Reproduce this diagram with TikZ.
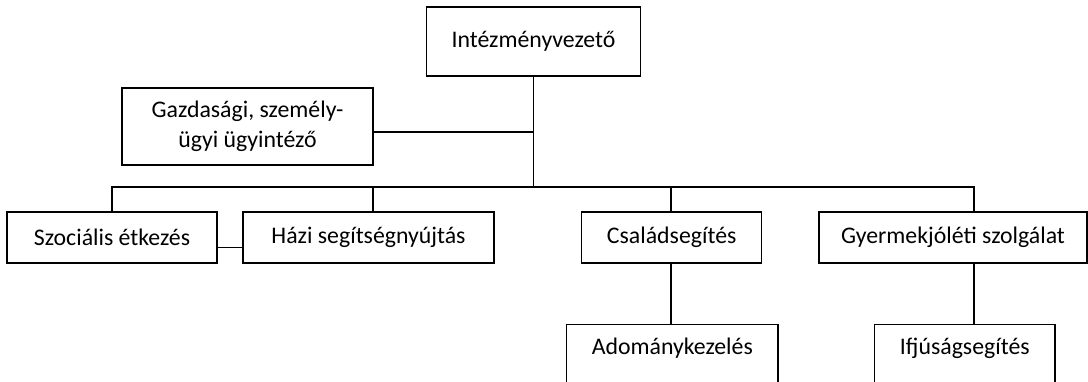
\documentclass[tikz,border=0pt]{standalone}
\usepackage{fontspec}
\setmainfont{Carlito}
\begin{document}
\begin{tikzpicture}[x=1pt,y=-1pt,
  line/.style={line width=1.3pt,draw=black},
  box/.style={draw=black,line width=1.3pt,inner sep=0pt,anchor=center,
    font=\fontsize{23.8}{30.5}\selectfont},
  openbox/.style={draw=none,inner sep=0pt,anchor=center,
    font=\fontsize{23.8}{30.5}\selectfont}]
\useasboundingbox (0,0) rectangle (1088,381);
\clip (0,0) rectangle (1088,381);
\fill[white] (0,0) rectangle (1088,381);

\node[box,minimum width=214pt,minimum height=69pt] (top) at (533.5,41.5) {Intézményvezető};
\node[box,minimum width=251pt,minimum height=77pt,align=center] (gazd) at (247.5,126.5) {Gazdasági, személy-\\ügyi ügyintéző};
\node[box,minimum width=210pt,minimum height=51pt] (szoc) at (112,237.5) {Szociális étkezés};
\node[box,minimum width=251pt,minimum height=51pt] (hazi) at (368.5,237.5) {Házi segítségnyújtás};
\node[box,minimum width=180pt,minimum height=51pt] (csal) at (671.7,237.5) {Családsegítés};
\node[box,minimum width=268pt,minimum height=51pt] (gyer) at (953,237.5) {Gyermekjóléti szolgálat};
\node[openbox,minimum width=210.7pt,minimum height=46pt] (adom) at (672.3,348) {Adománykezelés};
\node[openbox,minimum width=179.7pt,minimum height=46pt] (ifj) at (964.8,348) {Ifjúságsegítés};

\draw[line] (adom.north west) ++(0,80) -- (adom.north west) -- (adom.north east) -- ++(0,80);
\draw[line] (ifj.north west) ++(0,80) -- (ifj.north west) -- (ifj.north east) -- ++(0,80);

\coordinate (bus) at (533,187);
\coordinate (gd) at (974,187);
\coordinate (hd) at (373,187);
\coordinate (cd) at (671,187);

\draw[line] (top.south) -- (top.south |- bus);
\draw[line] ([yshift=-5.5pt]gazd.east) -- ([yshift=-5.5pt]gazd.east -| top.south);
\draw[line] (szoc.north) -- (szoc.north |- bus) -- (gd) -- (gd |- gyer.north);
\draw[line] (hd) -- (hd |- hazi.north);
\draw[line] (cd) -- (cd |- csal.north);
\draw[line] ([yshift=-10pt]szoc.east) -- ([yshift=-10pt]hazi.west);
\draw[line] (cd |- csal.south) -- (cd |- adom.north);
\draw[line] (gd |- gyer.south) -- (gd |- ifj.north);
\end{tikzpicture}
\end{document}
